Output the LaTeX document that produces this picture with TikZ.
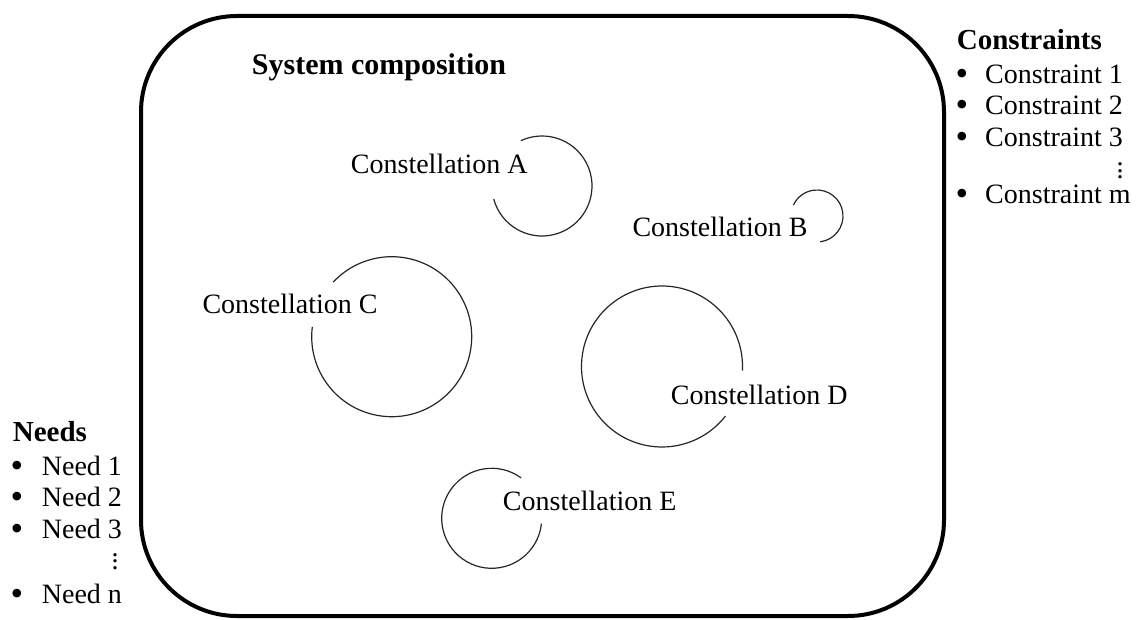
\documentclass[tikz,border=0pt]{standalone}
\usepackage{fontspec}
\setmainfont{Liberation Serif}
\begin{document}
\begin{tikzpicture}[x=1pt,y=1pt,
  lbl/.style={font=\fontsize{28}{32}\selectfont, inner sep=0pt, anchor=base},
  head/.style={font=\fontsize{29}{33}\selectfont\bfseries, inner sep=0pt, anchor=base west},
  item/.style={font=\fontsize{28}{32}\selectfont, inner sep=0pt, anchor=base west},
  bul/.style={font=\fontsize{36}{40}\selectfont, inner sep=0pt, anchor=base},
  vdot/.style={font=\fontsize{28}{32}\selectfont, inner sep=0pt, anchor=center},
  orbit/.style={line width=1.2pt, black!85},
  frame/.style={line width=4pt, rounded corners=96pt}]
\useasboundingbox (0,0) rectangle (1137,619);
\newcommand{\mydots}{\vbox{\baselineskip=6.5pt\lineskiplimit=0pt\hbox{.}\hbox{.}\hbox{.}}}
% system frame
\coordinate (fSW) at (141,3);
\coordinate (fNE) at (944,603);
\draw[frame] (fSW) rectangle (fNE);
\node[lbl, font=\fontsize{30}{34}\selectfont\bfseries] (title) at (379,544) {System composition};
% circle centres
\coordinate (cA) at (542,433);
\coordinate (cB) at (817,403);
\coordinate (cC) at (391.7,282.3);
\coordinate (cD) at (662,252.5);
\coordinate (cE) at (491.7,100.7);
\draw[orbit] ([shift={(-165:50)}]cA) arc[start angle=-165,end angle=115,radius=50];
\draw[orbit] ([shift={(-83:26)}]cB) arc[start angle=-83,end angle=155,radius=26];
\draw[orbit] ([shift={(173:80)}]cC) arc[start angle=173,end angle=497,radius=80];
\draw[orbit] ([shift={(-3:80.5)}]cD) arc[start angle=-3,end angle=322,radius=80.5];
\draw[orbit] ([shift={(54:50)}]cE) arc[start angle=54,end angle=354,radius=50];
\node[lbl] (lA) at (439.2,445.5) {Constellation A};
\node[lbl] (lB) at (720,382) {Constellation B};
\node[lbl] (lC) at (290,305) {Constellation C};
\node[lbl] (lD) at (759.2,215) {Constellation D};
\node[lbl] (lE) at (589.7,108.5) {Constellation E};
% constraints
\node[head] (ch) at (956.7,569.7) {Constraints};
\node[bul] (cb1) at (962,533.7) {•};
\node[bul] (cb2) at (962,502) {•};
\node[bul] (cb3) at (962,470.3) {•};
\node[bul] (cbm) at (962,413.7) {•};
\node[item] (c1) at (985,535.7) {Constraint 1};
\node[item] (c2) at (985,504) {Constraint 2};
\node[item] (c3) at (985,472.3) {Constraint 3};
\node[vdot] (cd) at (1120,448) {\mydots};
\node[item] (cm) at (985,415.7) {Constraint m};
% needs
\node[head] (nh) at (12.7,177.3) {Needs};
\node[bul] (nb1) at (17,142) {•};
\node[bul] (nb2) at (17,110.3) {•};
\node[bul] (nb3) at (17,78.7) {•};
\node[bul] (nbn) at (17,13.7) {•};
\node[item] (n1) at (41.7,144) {Need 1};
\node[item] (n2) at (41.7,112.3) {Need 2};
\node[item] (n3) at (41.7,80.7) {Need 3};
\node[vdot] (nd) at (115,57.5) {\mydots};
\node[item] (nn) at (41.7,15.7) {Need n};
\end{tikzpicture}
\end{document}
